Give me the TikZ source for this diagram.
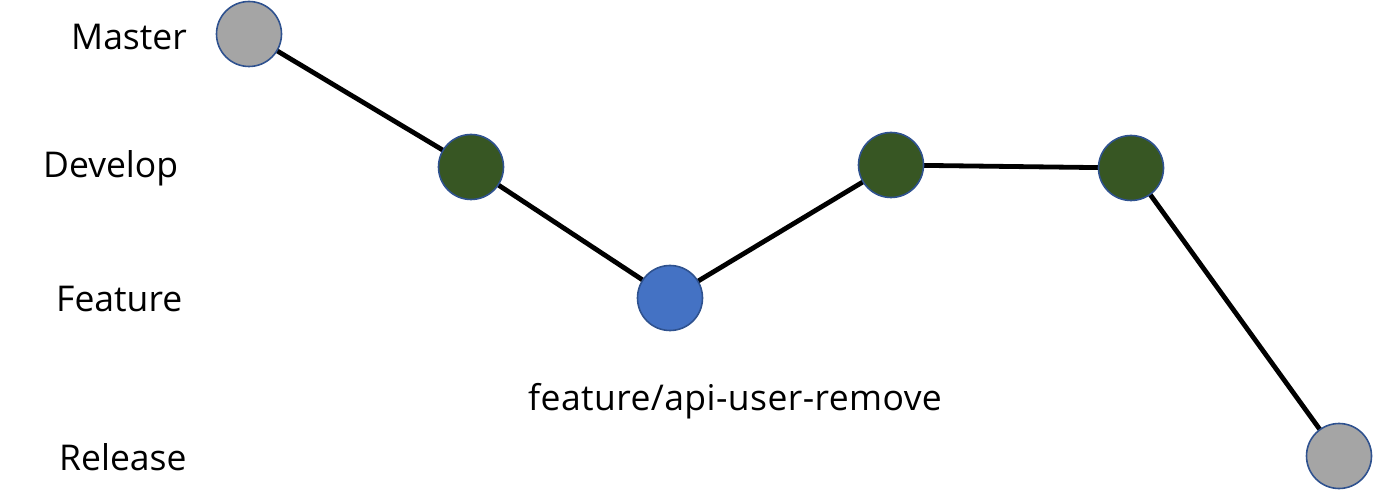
\documentclass[tikz,border=0pt]{standalone}
\usepackage{fontspec}
\setmainfont{Open Sans}
\usetikzlibrary{backgrounds}
\definecolor{cgray}{HTML}{A5A5A5}
\definecolor{cgreen}{HTML}{375623}
\definecolor{cblue}{HTML}{4472C4}
\definecolor{cedge}{HTML}{2F528F}
\begin{document}
\begin{tikzpicture}[x=1pt,y=-1pt,
  commit/.style={circle,draw=cedge,line width=1.6pt,minimum size=65pt,inner sep=0pt},
  link/.style={line width=4.8pt,black},
  lbl/.style={anchor=base west,inner sep=0pt,font=\fontsize{35.5}{40}\selectfont}]
\useasboundingbox (0,0) rectangle (1373,502);
\node[commit,fill=cgray]  (m)  at (249,34) {};
\node[commit,fill=cgreen] (d1) at (471,167) {};
\node[commit,fill=cblue]  (f)  at (670,298) {};
\node[commit,fill=cgreen] (d2) at (891,165) {};
\node[commit,fill=cgreen] (d3) at (1131,168) {};
\node[commit,fill=cgray]  (r)  at (1339,456) {};
\begin{scope}[on background layer]
\fill[white] (0,0) rectangle (1373,502);
\draw[link] (m.center) -- (d1.center) -- (f.center) -- (d2.center) -- (d3.center) -- (r.center);
\end{scope}
\node[lbl] (tm) at (71,49.3) {Master};
\node[lbl] (td) at (43,178) {Develop};
\node[lbl] (tf) at (56,311.7) {Feature};
\node[lbl] (tr) at (59,470) {Release};
\node[lbl] (tb) at (528,410) {\addfontfeature{LetterSpace=1.2}feature/api-user-remove};
\end{tikzpicture}
\end{document}
